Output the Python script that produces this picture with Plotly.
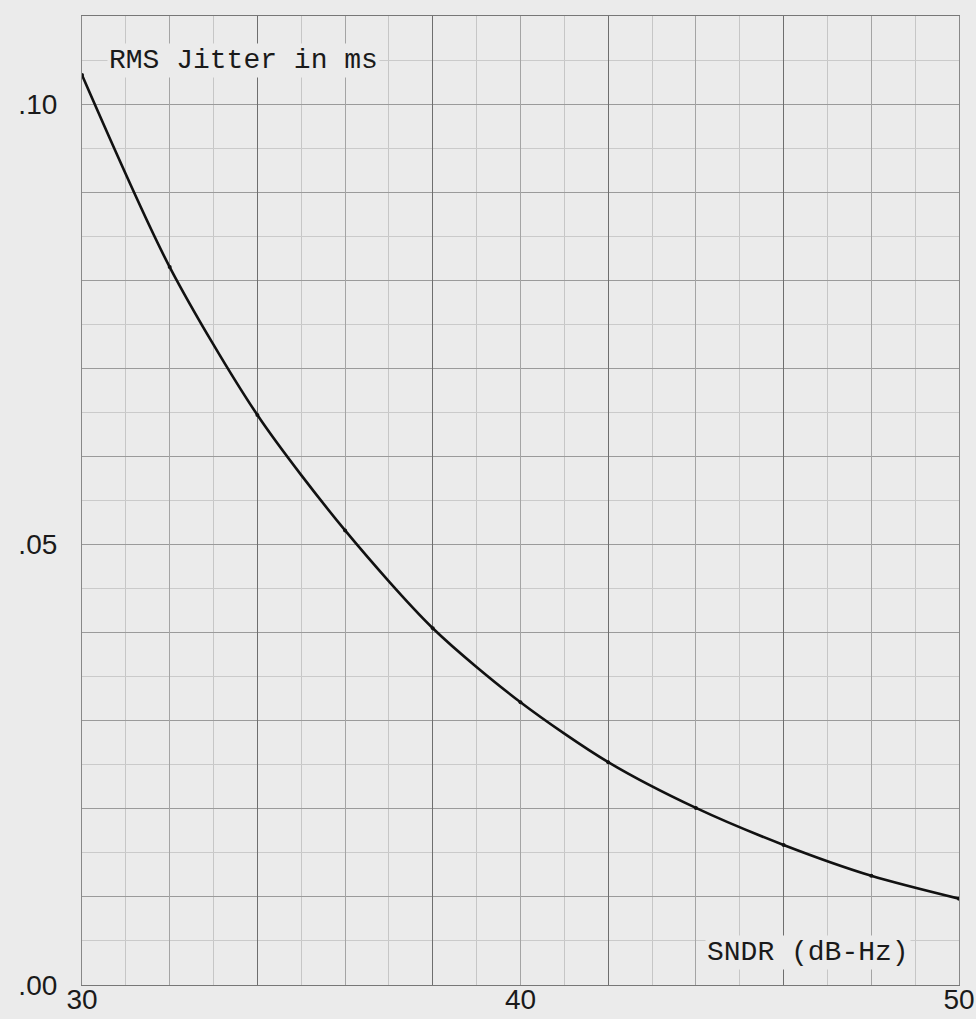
import plotly.graph_objects as go

# Data
sndr = [30, 32, 34, 36, 38, 40, 42, 44, 46, 48, 50]
jitter = [0.1033, 0.0815, 0.0647, 0.0516, 0.0405, 0.0321, 0.0253, 0.0201, 0.0159, 0.0124, 0.0098]

x_tickvals = [30, 40, 50]
x_ticktext = ["30", "40", "50"]
y_tickvals = [0.0, 0.05, 0.10]
y_ticktext = [".00", ".05", ".10"]

paper = "#ebebeb"
tick_font = dict(family="Liberation Sans", size=28, color="#1a1a1a")
type_font = dict(family="Liberation Mono", size=28, color="#1a1a1a")

fig = go.Figure()

# Curve
fig.add_trace(go.Scatter(
    x=sndr, y=jitter, mode="lines+markers",
    line=dict(color="#111111", width=2.6, shape="spline", smoothing=0.8),
    marker=dict(size=4, color="#111111"),
    xaxis="x", yaxis="y", showlegend=False, hoverinfo="x+y",
))
# Empty traces to activate overlay grid axes
for xa, ya in [("x2", "y"), ("x3", "y"), ("x", "y2")]:
    fig.add_trace(go.Scatter(x=[None], y=[None], xaxis=xa, yaxis=ya,
                             showlegend=False, hoverinfo="skip"))

xr = [30, 50]
yr = [0, 0.11]

fig.update_layout(
    width=976, height=1019,
    margin=dict(l=82, r=17, t=16, b=34, autoexpand=False),
    paper_bgcolor=paper, plot_bgcolor=paper,
    xaxis=dict(
        range=xr, tickmode="array", tickvals=x_tickvals, ticktext=x_ticktext,
        tickfont=tick_font, showgrid=False, zeroline=False, ticks="",
        ticklabelstandoff=-11, automargin=False,
        showline=True, mirror=True, linecolor="#777777", linewidth=1.2,
        minor=dict(tick0=30, dtick=1, showgrid=True, gridcolor="#c6c6c6", gridwidth=1),
    ),
    xaxis2=dict(
        range=xr, overlaying="x", tick0=30, dtick=2, showticklabels=False,
        showgrid=True, gridcolor="#a4a4a4", gridwidth=1, zeroline=False, ticks="",
        automargin=False,
    ),
    xaxis3=dict(
        range=xr, overlaying="x", tick0=30, dtick=4, showticklabels=False,
        showgrid=True, gridcolor="#6e6e6e", gridwidth=1.4, zeroline=False, ticks="",
        automargin=False,
    ),
    yaxis=dict(
        range=yr, tickmode="array", tickvals=y_tickvals, ticktext=y_ticktext,
        tickfont=tick_font, showgrid=False, zeroline=False, ticks="",
        ticklabelstandoff=18, automargin=False,
        showline=True, mirror=True, linecolor="#888888", linewidth=1.2,
        minor=dict(tick0=0, dtick=0.005, showgrid=True, gridcolor="#cacaca", gridwidth=1),
    ),
    yaxis2=dict(
        range=yr, overlaying="y", tick0=0, dtick=0.01, showticklabels=False,
        showgrid=True, gridcolor="#9a9a9a", gridwidth=1.2, zeroline=False, ticks="",
        automargin=False,
    ),
    annotations=[
        dict(text="RMS Jitter in ms", x=30.58, y=0.105, xref="x", yref="y",
             xanchor="left", yanchor="middle", showarrow=False, font=type_font,
             bgcolor=paper),
        dict(text="SNDR (dB-Hz)", x=44.2, y=0.0037, xref="x", yref="y",
             xanchor="left", yanchor="middle", showarrow=False, font=type_font,
             bgcolor=paper),
    ],
)

fig.write_html(
    "out.html",
    config={"displayModeBar": False},
    post_script="document.body.style.margin='0';document.body.style.overflow='hidden';",
)
